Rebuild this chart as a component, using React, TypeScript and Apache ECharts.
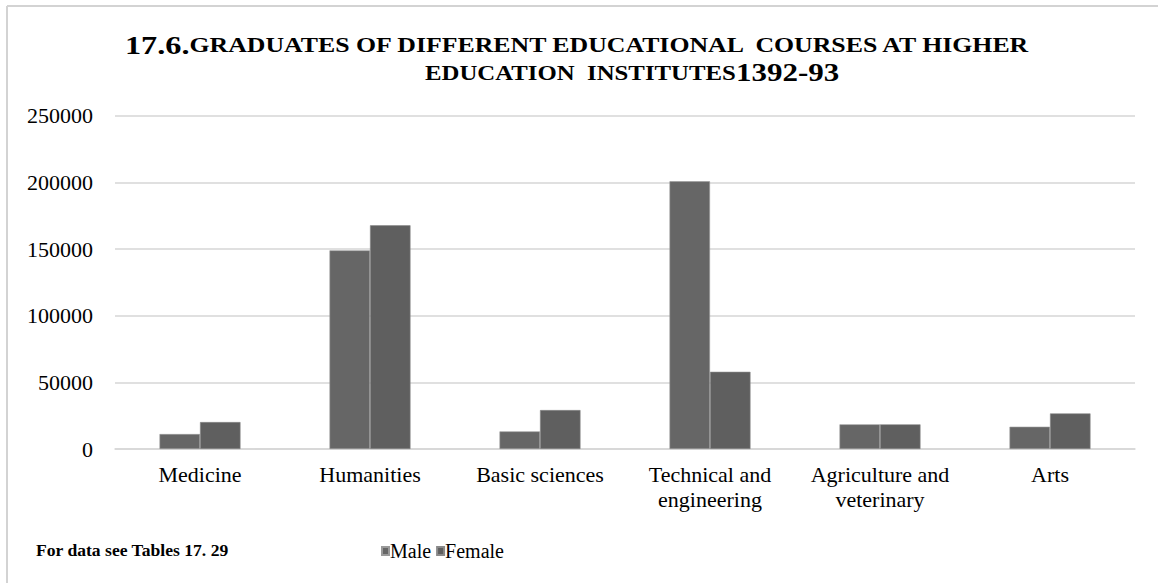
import React, { useEffect, useRef } from "react";
import * as echarts from "echarts";

const categories = [
  "Medicine",
  "Humanities",
  "Basic sciences",
  "Technical and\nengineering",
  "Agriculture and\nveterinary",
  "Arts",
];
const maleValues = [11200, 149000, 13200, 200800, 18500, 16700];
const femaleValues = [20200, 167800, 29200, 57900, 18500, 26700];
const yTicks = { min: 0, max: 250000, interval: 50000 };
const titleLine1Lead = "17.6.";
const titleLine1Rest = "GRADUATES OF DIFFERENT EDUCATIONAL  COURSES AT HIGHER";
const titleLine2Rest = "EDUCATION  INSTITUTES";
const titleLine2Tail = "1392-93";
const footnote = "For data see Tables 17. 29";

const SERIF = "Liberation Serif";

const titleRich = {
  a: { fontFamily: SERIF, fontWeight: "bold", fontSize: 25, fill: "#000" },
  b: { fontFamily: SERIF, fontWeight: "bold", fontSize: 20, fill: "#000" },
};

export default function App() {
  const ref = useRef<HTMLDivElement>(null);
  useEffect(() => {
    if (!ref.current) return;
    const chart = echarts.init(ref.current, undefined, { renderer: "svg" });
    chart.setOption({
      animation: false,
      backgroundColor: "#ffffff",
      graphic: [
        {
          type: "line",
          shape: { x1: 7, y1: 6, x2: 1158, y2: 6 },
          style: { stroke: "#d3d3d3", lineWidth: 2 },
        },
        {
          type: "line",
          shape: { x1: 7, y1: 6, x2: 7, y2: 583 },
          style: { stroke: "#d3d3d3", lineWidth: 2 },
        },
        {
          type: "text",
          x: 125,
          y: 45,
          scaleX: 1.29,
          style: {
            text: `{a|${titleLine1Lead}}{b|${titleLine1Rest}}`,
            rich: titleRich,
            verticalAlign: "middle",
            align: "left",
          },
        },
        {
          type: "text",
          x: 425,
          y: 73,
          scaleX: 1.24,
          style: {
            text: `{b|${titleLine2Rest}}{a|${titleLine2Tail}}`,
            rich: titleRich,
            verticalAlign: "middle",
            align: "left",
          },
        },
        {
          type: "text",
          x: 36,
          y: 550,
          style: {
            text: footnote,
            fontFamily: SERIF,
            fontWeight: "bold",
            fontSize: 17.6,
            fill: "#000",
            verticalAlign: "middle",
          },
        },
      ],
      legend: {
        data: ["Male", "Female"],
        left: 376,
        top: 536,
        icon: "rect",
        itemWidth: 7,
        itemHeight: 8,
        itemGap: 5,
        textStyle: { fontFamily: SERIF, fontSize: 20, color: "#000", padding: [0, 0, 0, -4] },
      },
      grid: { left: 115, right: 23, top: 115.7, bottom: 134, containLabel: false },
      xAxis: {
        type: "category",
        data: categories,
        axisLine: { show: true, lineStyle: { color: "#d6d6d6", width: 1.5 } },
        axisTick: { show: false },
        axisLabel: {
          interval: 0,
          margin: 13,
          fontFamily: SERIF,
          fontSize: 22,
          color: "#000",
          lineHeight: 25,
        },
      },
      yAxis: {
        type: "value",
        min: yTicks.min,
        max: yTicks.max,
        interval: yTicks.interval,
        axisLine: { show: false },
        axisTick: { show: false },
        splitLine: { lineStyle: { color: "#d6d6d6", width: 1.5 } },
        axisLabel: {
          margin: 22,
          fontFamily: SERIF,
          fontSize: 22,
          color: "#000",
          formatter: (v: number) => String(v),
        },
      },
      series: [
        {
          name: "Male",
          type: "bar",
          data: maleValues,
          barWidth: 40.5,
          barGap: "0%",
          itemStyle: { color: "#666666", borderColor: "#9a9a9a", borderWidth: 0.6 },
        },
        {
          name: "Female",
          type: "bar",
          data: femaleValues,
          barWidth: 40.5,
          barGap: "0%",
          itemStyle: { color: "#5f5f5f", borderColor: "#8a8a8a", borderWidth: 0.6 },
        },
      ],
    });
    return () => chart.dispose();
  }, []);
  return (
    <div
      ref={ref}
      style={{ position: "fixed", left: 0, top: 0, width: 1158, height: 583 }}
    />
  );
}
